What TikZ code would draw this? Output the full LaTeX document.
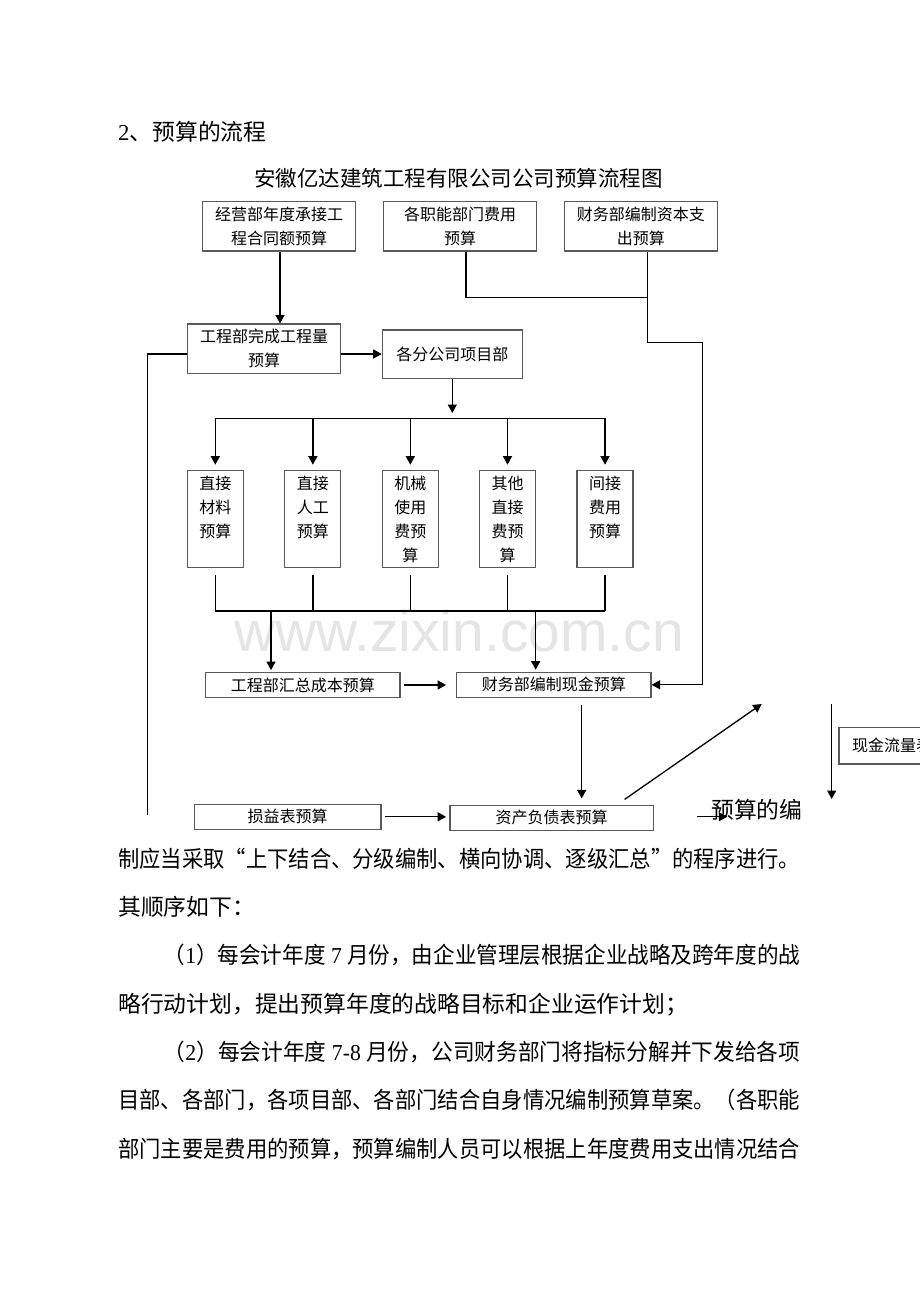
\documentclass[tikz,border=0pt]{standalone}
\usepackage{fontspec}
\usepackage{graphicx}
\setmainfont{Noto Sans CJK SC}
\newfontfamily\lat{Liberation Serif}
\newfontfamily\wmfont{Liberation Sans}
\usetikzlibrary{arrows.meta,calc}
\begin{document}
\begin{tikzpicture}[x=1pt,y=-1pt,
  box/.style={draw=black!65, line width=1.2pt, inner sep=0pt, align=center, font=\fontsize{16}{24}\selectfont},
  smallbox/.style={box, minimum width=56pt, minimum height=97.4pt},
  conn/.style={line width=1.3pt, black},
  arr/.style={conn, -{Triangle[length=8.5pt,width=9pt]}},
  body/.style={anchor=base west, inner sep=0pt, font=\fontsize{22.8}{24}\selectfont},
  ttl/.style={inner sep=0pt, font=\fontsize{22.8}{24}\selectfont}
]
\useasboundingbox (0,0) rectangle (920,1302);
\fill[white] (0,0) rectangle (920,1302);
\clip (0,0) rectangle (920,1302);

% watermark
\node[anchor=base, inner sep=0pt, text=black!10, font=\wmfont\fontsize{57}{60}\selectfont] (wm) at (459,651.7) {www.zixin.com.cn};

% headings
\node[ttl, anchor=base west] (hdr) at (118,140.4) {{\lat 2}、预算的流程};
\node[ttl, anchor=base, font=\fontsize{21.5}{24}\selectfont] (title) at (458.5,186.2) {安徽亿达建筑工程有限公司公司预算流程图};

% boxes
\node[box, minimum width=153.4pt, minimum height=49.3pt] (A) at (279,226.4) {经营部年度承接工\\程合同额预算};
\node[box, minimum width=153.4pt, minimum height=49.3pt] (B) at (460,226.4) {各职能部门费用\\预算};
\node[box, minimum width=153pt, minimum height=49.3pt] (C) at (640.8,226.4) {财务部编制资本支\\出预算};
\node[box, minimum width=153pt, minimum height=49.3pt] (D) at (264.2,348.7) {工程部完成工程量\\预算};
\node[box, minimum width=140pt, minimum height=48.3pt] (E) at (452.3,354.2) {各分公司项目部};

\node[smallbox] (b1) at (215.3,519) {直接\\材料\\预算\\\phantom{算}};
\node[smallbox] (b2) at (312.85,519) {直接\\人工\\预算\\\phantom{算}};
\node[smallbox] (b3) at (410.3,519) {机械\\使用\\费预\\算};
\node[smallbox] (b4) at (507.5,519) {其他\\直接\\费预\\算};
\node[smallbox] (b5) at (605,519) {间接\\费用\\预算\\\phantom{算}};

\node[box, minimum width=194.3pt, minimum height=24.6pt] (F) at (302.85,685) {工程部汇总成本预算};
\node[box, minimum width=194.3pt, minimum height=25pt] (G) at (553.85,684.8) {财务部编制现金预算};
\node[box, minimum width=186.7pt, minimum height=25pt] (H) at (287.65,816.8) {损益表预算};
\node[box, minimum width=203.3pt, minimum height=25pt] (I) at (551.65,817.8) {资产负债表预算};
\node[box, minimum width=138pt, minimum height=36.7pt] (J) at (908,745.7) {现金流量表预算};

% helper coordinates
\coordinate (xA) at (280,0);
\coordinate (yDE) at (0,354);
\coordinate (L1) at (147.3,354);
\coordinate (L2) at (147.3,815);
\coordinate (xB) at (466,0);
\coordinate (xC) at (647.3,0);
\coordinate (yBC) at (0,297.3);
\coordinate (yC2) at (0,342.3);
\coordinate (xR) at (702.7,0);
\coordinate (yBus) at (0,418.3);
\coordinate (yTip) at (0,413);
\coordinate (yB1) at (0,575);
\coordinate (yB2) at (0,611);
\coordinate (xF) at (271,0);
\coordinate (xG) at (535.7,0);
\coordinate (xGI) at (581.7,0);
\coordinate (dg) at (761.7,704);
\coordinate (r1) at (831.7,704);
\coordinate (r2) at (831.7,799);

% connectors
\draw[arr] (xA |- A.south) -- (xA |- D.north);
\draw[arr] (D.east |- yDE) -- (E.west |- yDE);
\draw[conn] (D.west |- yDE) -- (L1) -- (L2);
\draw[conn] (xB |- B.south) -- (xB |- yBC) -- (xC |- yBC);
\draw[arr] (xC |- C.south) -- (xC |- yC2) -- (xR |- yC2) -- (xR |- G.east) -- (G.east);
\draw[arr] (E.south) -- (E.south |- yTip);
\draw[conn] (b1.north |- yBus) -- (b5.north |- yBus);
\foreach \i in {1,...,5} {
  \draw[arr, shorten >=5pt] (b\i.north |- yBus) -- (b\i.north);
  \draw[conn] (b\i.south |- yB1) -- (b\i.south |- yB2);
}
\draw[conn] (b1.south |- yB2) -- (b5.south |- yB2);
\draw[arr, shorten >=2pt] (xF |- yB2) -- (xF |- F.north);
\draw[arr, shorten >=2pt] (xG |- yB2) -- (xG |- G.north);
\draw[arr, shorten <=3.3pt, shorten >=10pt] (F.east) -- (F.east -| G.west);
\draw[arr, shorten <=6.7pt, shorten >=6.3pt] (xGI |- G.south) -- (xGI |- I.north);
\draw[arr, shorten <=3.3pt, shorten >=3.3pt] (H.east) -- (H.east -| I.west);
\draw[arr] ($(I.north east)+(-29.3,-5.3)$) -- (dg);
\draw[arr] (r1) -- (r2);

% body text
\node[body] (tail) at (711,818.7) {预算的编};
\draw[arr] ($(I.east)+(43.4,-1.1)$) -- ($(I.east)+(73.4,-1.1)$);
\node[body] (l1) at (118,867) {\resizebox{682pt}{\height}{制应当采取“上下结合、分级编制、横向协调、逐级汇总”的程序进行。}};
\node[body] (l2) at (118,915.4) {其顺序如下：};
\node[body] (l3) at (163.6,963.7) {\resizebox{636.4pt}{\height}{（{\lat 1}）每会计年度{\lat\ 7 }月份，由企业管理层根据企业战略及跨年度的战}};
\node[body] (l4) at (118,1012) {略行动计划，提出预算年度的战略目标和企业运作计划；};
\node[body] (l5) at (163.6,1060.4) {\resizebox{636.4pt}{\height}{（{\lat 2}）每会计年度{\lat\ 7-8 }月份，公司财务部门将指标分解并下发给各项}};
\node[body] (l6) at (118,1108.7) {\resizebox{682pt}{\height}{目部、各部门，各项目部、各部门结合自身情况编制预算草案。（各职能}};
\node[body] (l7) at (118,1157) {\resizebox{682pt}{\height}{部门主要是费用的预算，预算编制人员可以根据上年度费用支出情况结合}};
\end{tikzpicture}
\end{document}
